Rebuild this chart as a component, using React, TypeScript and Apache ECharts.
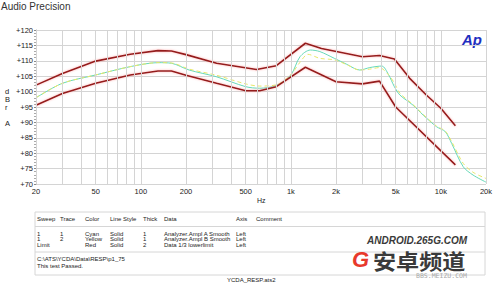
import React, { useEffect, useRef } from "react";
import * as echarts from "echarts";

// ---- data (frequency Hz, level dBr A) ----
const upperLimit: [number, number][] = [
  [20, 102.1], [30, 105.9], [50, 109.9], [85, 112.1], [130, 113.3], [160, 113.2],
  [200, 112.0], [320, 109.2], [590, 107.2], [800, 108.4], [1250, 115.7], [1600, 114.0],
  [3000, 111.3], [3900, 111.7], [4900, 110.6], [6200, 104.3], [8000, 98.9],
  [10000, 94.6], [12500, 88.9],
];
const lowerLimit: [number, number][] = [
  [20, 95.6], [30, 99.4], [50, 102.7], [85, 105.4], [130, 106.7], [160, 106.7],
  [200, 105.3], [320, 102.7], [500, 100.3], [620, 100.3], [800, 101.6], [1250, 107.9],
  [2000, 103.2], [3000, 102.5], [3900, 103.4], [5000, 95.0], [12500, 76.2],
];
const traceCyan: [number, number][] = [
  [20, 98.0], [30, 102.7], [50, 105.4], [85, 108.1], [130, 109.4], [160, 109.2],
  [210, 107.0], [320, 104.8], [500, 101.6], [620, 101.1], [800, 102.0], [1000, 105.4],
  [1150, 111.3], [1350, 113.5], [1560, 113.0], [1950, 110.8], [2350, 108.9],
  [2880, 107.0], [3360, 107.8], [4040, 108.3], [4470, 105.6], [4900, 101.6],
  [5330, 98.9], [6520, 95.6], [7620, 92.4], [9360, 88.6], [10700, 87.0],
  [11800, 83.2], [14100, 75.6], [16400, 72.9], [20000, 70.6],
];
const traceYellow: [number, number][] = [
  [20, 98.0], [30, 102.7], [50, 105.4], [85, 108.1], [130, 109.4], [160, 109.3],
  [210, 107.3], [320, 105.3], [500, 102.5], [620, 101.8], [800, 102.2], [1000, 105.5],
  [1150, 109.5], [1300, 112.1], [1560, 110.8], [1950, 110.3], [2350, 108.8],
  [2880, 107.0], [3360, 107.3], [3900, 107.8], [4450, 105.6], [4900, 102.8],
  [5330, 99.5], [6520, 95.8], [7620, 92.6], [9360, 88.8], [10700, 87.2],
  [11800, 83.8], [14100, 76.7], [16400, 73.8], [20000, 71.8],
];

const gridFreqs = [
  20, 30, 40, 50, 60, 70, 80, 90, 100, 200, 300, 400, 500, 600, 700, 800, 900,
  1000, 2000, 3000, 4000, 5000, 6000, 7000, 8000, 9000, 10000, 20000,
];
const labelFreqs = [20, 50, 100, 200, 500, 1000, 2000, 5000, 10000, 20000];
const labelTexts = ["20", "50", "100", "200", "500", "1k", "2k", "5k", "10k", "20k"];

const tableHeaders = ["Sweep", "Trace", "Color", "Line Style", "Thick", "Data", "Axis", "Comment"];
const tableRows = [
  ["1", "1", "Cyan", "Solid", "1", "Analyzer.Ampl A Smooth", "Left", ""],
  ["1", "2", "Yellow", "Solid", "1", "Analyzer.Ampl B Smooth", "Left", ""],
  ["Limit", "", "Red", "Solid", "2", "Data 1/3 lowerlimit", "Left", ""],
];
const filePath = "C:\\ATS\\YCDA\\Data\\RESP\\p1_75";
const testResult = "This test Passed.";
const fileName = "YCDA_RESP.ats2";

const FONT = "'Liberation Sans', Arial, sans-serif";

export default function App() {
  const ref = useRef<HTMLDivElement>(null);
  useEffect(() => {
    if (!ref.current) return;
    const chart = echarts.init(ref.current, null, { renderer: "svg" });

    const colX = [37, 60, 85, 110, 143, 164, 236, 256];
    const tableGraphics: any[] = [];
    tableGraphics.push({
      type: "rect",
      shape: { x: 35, y: 212, width: 450, height: 63 },
      style: { fill: "none", stroke: "#d6d6d6", lineWidth: 1 },
    });
    tableGraphics.push({
      type: "line",
      shape: { x1: 35, y1: 226.5, x2: 485, y2: 226.5 },
      style: { stroke: "#d6d6d6", lineWidth: 1 },
    });
    tableGraphics.push({
      type: "line",
      shape: { x1: 35, y1: 252, x2: 485, y2: 252 },
      style: { stroke: "#d6d6d6", lineWidth: 1 },
    });
    tableHeaders.forEach((h, i) => {
      tableGraphics.push({
        type: "text",
        x: colX[i],
        y: 219,
        style: { text: h, fontSize: 6, fontFamily: FONT, fill: "#222", verticalAlign: "middle" },
      });
    });
    tableRows.forEach((row, r) => {
      row.forEach((cell, i) => {
        if (!cell) return;
        tableGraphics.push({
          type: "text",
          x: colX[i],
          y: 233.5 + r * 5.5,
          style: { text: cell, fontSize: 6, fontFamily: FONT, fill: "#222", verticalAlign: "middle" },
        });
      });
    });
    tableGraphics.push({
      type: "text",
      x: 37,
      y: 259,
      style: { text: filePath, fontSize: 6, fontFamily: FONT, fill: "#222", verticalAlign: "middle" },
    });
    tableGraphics.push({
      type: "text",
      x: 37,
      y: 266,
      style: { text: testResult, fontSize: 6, fontFamily: FONT, fill: "#222", verticalAlign: "middle" },
    });
    tableGraphics.push({
      type: "text",
      x: 227,
      y: 280,
      style: { text: fileName, fontSize: 6, fontFamily: FONT, fill: "#222", verticalAlign: "middle" },
    });

    const markLineData = gridFreqs.map((f) => {
      const li = labelFreqs.indexOf(f);
      return {
        xAxis: f,
        label: {
          show: li >= 0,
          formatter: li >= 0 ? labelTexts[li] : "",
          position: "start",
          distance: 3,
          fontSize: 7.5,
          fontFamily: FONT,
          color: "#222",
        },
      };
    });

    const limitStyle = {
      color: "#941a1a",
      width: 1.6,
      shadowColor: "rgba(255,110,110,0.55)",
      shadowBlur: 2,
    };

    chart.setOption({
      animation: false,
      backgroundColor: "#ffffff",
      grid: { left: 36, right: 10, top: 30, bottom: 102, containLabel: false },
      xAxis: {
        type: "log",
        logBase: 10,
        min: 20,
        max: 20000,
        axisLine: { show: false },
        axisTick: { show: false },
        axisLabel: { show: false },
        splitLine: { show: false },
      },
      yAxis: {
        type: "value",
        min: 70,
        max: 120,
        interval: 5,
        axisLine: { show: true, lineStyle: { color: "#aaaaaa" } },
        axisTick: { show: true, length: 2, lineStyle: { color: "#888" } },
        minorTick: { show: true, splitNumber: 5, length: 2, lineStyle: { color: "#aaa" } },
        axisLabel: {
          formatter: (v: number) => "+" + v,
          fontSize: 7.5,
          fontFamily: FONT,
          color: "#222",
          margin: 3,
        },
        splitLine: { show: true, lineStyle: { color: "#d4d4d4", width: 1 } },
      },
      series: [
        {
          type: "line",
          data: [],
          silent: true,
          markLine: {
            silent: true,
            symbol: ["none", "none"],
            lineStyle: { color: "#d4d4d4", type: "solid", width: 1 },
            data: markLineData,
          },
        },
        {
          name: "Upper limit",
          type: "line",
          data: upperLimit,
          showSymbol: false,
          lineStyle: limitStyle,
          z: 4,
        },
        {
          name: "Lower limit",
          type: "line",
          data: lowerLimit,
          showSymbol: false,
          lineStyle: limitStyle,
          z: 4,
        },
        {
          name: "Trace 1 (Cyan)",
          type: "line",
          data: traceCyan,
          showSymbol: false,
          smooth: 0.3,
          lineStyle: { color: "#66d8b8", width: 1 },
          z: 3,
        },
        {
          name: "Trace 2 (Yellow)",
          type: "line",
          data: traceYellow,
          showSymbol: false,
          smooth: 0.3,
          lineStyle: { color: "#e8e86a", width: 1, type: [4, 3] },
          z: 3,
        },
      ],
      graphic: [
        {
          type: "text",
          left: 1,
          top: 1,
          style: { text: "Audio Precision", fontSize: 10, fontFamily: FONT, fill: "#333" },
        },
        {
          type: "text",
          x: 462,
          y: 32,
          style: {
            text: "Ap",
            fontSize: 15,
            fontStyle: "italic",
            fontWeight: "bold",
            fontFamily: FONT,
            fill: "#1f2fbf",
          },
        },
        {
          type: "text",
          x: 5,
          y: 87,
          style: { text: "d\nB\nr", fontSize: 7.5, lineHeight: 8, fontFamily: FONT, fill: "#222" },
        },
        {
          type: "text",
          x: 5,
          y: 119,
          style: { text: "A", fontSize: 7.5, fontFamily: FONT, fill: "#222" },
        },
        {
          type: "text",
          x: 257,
          y: 197,
          style: { text: "Hz", fontSize: 7, fontFamily: FONT, fill: "#222" },
        },
        ...tableGraphics,
        {
          type: "text",
          x: 367,
          y: 235,
          style: {
            text: "ANDROID.265G.COM",
            fontSize: 10,
            fontStyle: "italic",
            fontWeight: "bold",
            fontFamily: FONT,
            fill: "#3a3a3a",
          },
        },
        {
          type: "text",
          x: 352,
          y: 248,
          style: {
            text: "G",
            fontSize: 22,
            fontWeight: "bold",
            fontStyle: "italic",
            fontFamily: FONT,
            fill: "#e8392c",
          },
        },
        {
          type: "text",
          x: 373,
          y: 249,
          scaleX: 1.1,
          style: {
            text: "安卓频道",
            fontSize: 21,
            fontWeight: "bold",
            fontFamily: "'Noto Sans CJK SC', sans-serif",
            fill: "#3a3a3a",
          },
        },
        {
          type: "text",
          x: 416,
          y: 272,
          style: {
            text: "BBS.MEIZU.COM",
            fontSize: 6.5,
            fontFamily: "'DejaVu Sans Mono', monospace",
            fill: "#a8a8a8",
          },
        },
      ],
    });
    return () => chart.dispose();
  }, []);
  return (
    <div
      ref={ref}
      style={{ position: "fixed", left: 0, top: 0, width: 496, height: 286, background: "#fff" }}
    />
  );
}
